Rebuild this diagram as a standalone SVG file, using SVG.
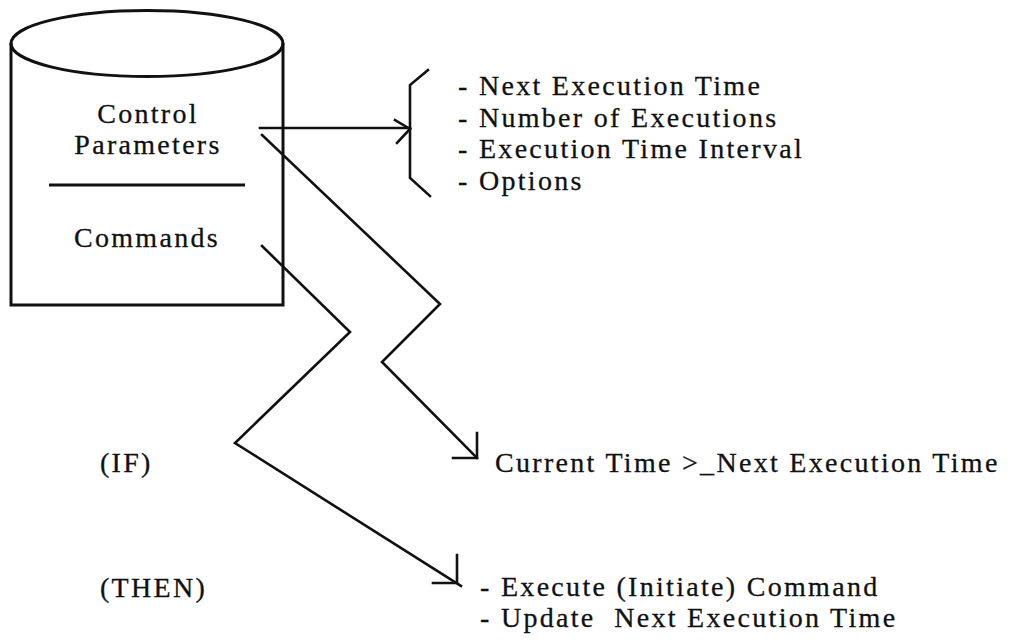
<svg xmlns="http://www.w3.org/2000/svg" width="1012" height="640" viewBox="0 0 1012 640">
  <style>
    .ln { fill: none; stroke: #111; stroke-width: 2.6; stroke-linecap: square; stroke-linejoin: miter; }
    .box { fill: none; stroke: #111; stroke-width: 3; }
    .t { font-family: "Liberation Serif", "Times New Roman", serif; font-size: 28px; letter-spacing: 2.3px; fill: #111; stroke: #111; stroke-width: 0.3; }
    .mid { text-anchor: middle; }
  </style>
  <rect width="1012" height="640" fill="#ffffff"/>

  <!-- data store: cylinder with two compartments -->
  <g id="store">
    <path class="box" d="M11,43 V305 H283 V43"/>
    <ellipse class="box" cx="147" cy="43.5" rx="136" ry="33"/>
    <line class="box" x1="49" y1="185" x2="245" y2="185"/>
    <text class="t mid" x="148" y="123" letter-spacing="2">Control</text>
    <text class="t mid" x="148" y="154" letter-spacing="2">Parameters</text>
    <text class="t mid" x="147" y="247" letter-spacing="2">Commands</text>
  </g>

  <!-- parameter list with bracket -->
  <g id="params">
    <path class="ln" d="M428,70 L410,85 V178 L430,196"/>
    <text class="t" x="458" y="95">- Next Execution Time</text>
    <text class="t" x="458" y="127">- Number of Executions</text>
    <text class="t" x="458" y="158">- Execution Time Interval</text>
    <text class="t" x="458" y="190">- Options</text>
  </g>

  <g id="if-label">
    <text class="t" x="100" y="472">(IF)</text>
  </g>
  <g id="then-label">
    <text class="t" x="100" y="597" letter-spacing="2.7">(THEN)</text>
  </g>

  <g id="condition">
    <text class="t" x="495" y="472" letter-spacing="2.35">Current Time &gt;_Next Execution Time</text>
  </g>

  <g id="action">
    <text class="t" x="480" y="596">- Execute (Initiate) Command</text>
    <text class="t" x="480" y="627" xml:space="preserve">- Update  Next Execution Time</text>
  </g>

  <!-- connectors -->
  <g id="connectors">
    <path class="ln" d="M260,128 H410"/>
    <path class="ln" d="M395,120 L410,129 L397,143"/>
    <path class="ln" d="M262,135 L440,304 L382,362 L477,458"/>
    <path class="ln" d="M477,433 V458 H453"/>
    <path class="ln" d="M262,246 L350,332 L235,443 L461,586"/>
    <path class="ln" d="M457,555 V583 H433"/>
  </g>
</svg>
